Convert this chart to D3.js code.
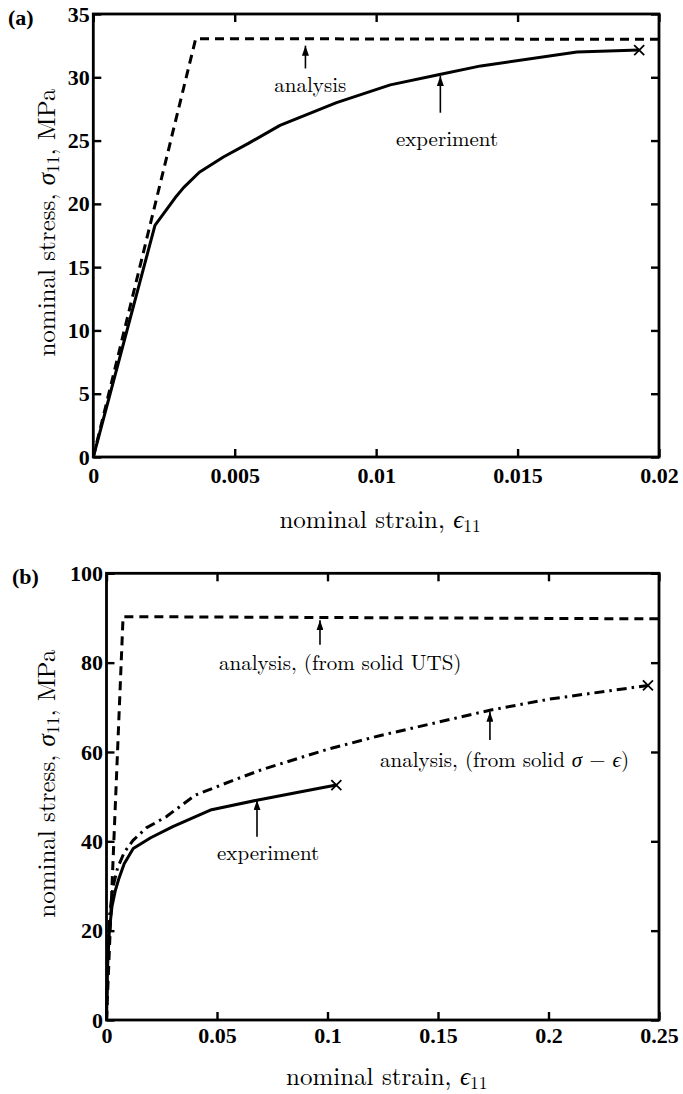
<!DOCTYPE html>
<html><head><meta charset="utf-8">
<script src="https://cdn.jsdelivr.net/npm/d3@7"></script>
</head><body style="margin:0;background:#fff">
<svg id="chart" width="683" height="1094" style="display:block"></svg>
<script>
// ---------- Panel (a) data ----------
const strainTicksA = [0, 0.005, 0.01, 0.015, 0.02];
const strainLabelsA = ["0", "0.005", "0.01", "0.015", "0.02"];
const stressTicksA = [0, 5, 10, 15, 20, 25, 30, 35];
const experimentA = [[0,0],[0.00218,18.3],[0.0029,20.5],[0.0032,21.3],[0.00375,22.5],[0.0046,23.7],[0.0055,24.8],[0.0066,26.2],[0.0086,28.0],[0.0105,29.4],[0.0122,30.2],[0.0137,30.9],[0.0171,32.0],[0.0193,32.15]];
const analysisA = [[0,0],[0.00362,33.05],[0.02,33.0]];
const failureA = [[0.0193,32.15]];

// ---------- Panel (b) data ----------
const strainTicksB = [0, 0.05, 0.1, 0.15, 0.2, 0.25];
const strainLabelsB = ["0", "0.05", "0.1", "0.15", "0.2", "0.25"];
const stressTicksB = [0, 20, 40, 60, 80, 100];
const experimentB = [[0,0],[0.0005,12],[0.0013,20],[0.0025,25.5],[0.004,29],[0.0055,31.5],[0.008,35],[0.0121,38.4],[0.02,40.8],[0.03,43.3],[0.047,47.0],[0.068,49.2],[0.088,51.1],[0.104,52.6]];
const analysisUTSB = [[0,0],[0.0075,90.3],[0.25,89.8]];
const analysisSolidB = [[0,0],[0.0005,14],[0.0015,24],[0.003,30],[0.005,34],[0.008,37.5],[0.012,40.2],[0.018,43],[0.027,45.5],[0.04,50.3],[0.057,53.6],[0.07,56],[0.1,60.6],[0.124,63.7],[0.174,69.4],[0.2,71.8],[0.245,74.9]];
const failureB = [[0.104,52.6],[0.245,74.9]];

// ---------- annotations (data coordinates) ----------
const notesA = [
  {x:0.0075, tip:32.5, tail:30.7, lx:0.0064, ly:28.8, text:[["analysis"]]},
  {x:0.01227, tip:30.1, tail:27.2, lx:0.0107, ly:24.6, text:[["experiment"]]}
];
const notesB = [
  {x:0.0966, tip:89.5, tail:84.0, lx:0.0509, ly:78.4, text:[["analysis, (from solid UTS)"]]},
  {x:0.1735, tip:69.0, tail:62.7, lx:0.1238, ly:56.6, text:[["analysis, (from solid "],["σ","i"],[" − "],["ϵ","i"],[")"]]},
  {x:0.0681, tip:49.2, tail:41.0, lx:0.050, ly:35.8, text:[["experiment"]]}
];

const LM = '"Latin Modern Roman","CMU Serif","Liberation Serif",serif';
const TB = '"Liberation Serif","Times New Roman",serif';

const svg = d3.select("#chart");
svg.append("rect").attr("width",683).attr("height",1094).attr("fill","#fff");

const defs = svg.append("defs");
defs.append("marker").attr("id","ah").attr("markerUnits","userSpaceOnUse")
  .attr("markerWidth",11).attr("markerHeight",7).attr("refX",10).attr("refY",3.5)
  .attr("orient","auto")
  .append("path").attr("d","M0,0 L10,3.5 L0,7 Z").attr("fill","#000");

function panel(cfg){
  const x = d3.scaleLinear().domain([cfg.xTicks[0], cfg.xTicks[cfg.xTicks.length-1]]).range([cfg.left, cfg.right]);
  const y = d3.scaleLinear().domain([cfg.yTicks[0], cfg.yTicks[cfg.yTicks.length-1]]).range([cfg.bottom, cfg.top]);
  const g = svg.append("g");

  const tickW = 2.4;
  const bottomAx = g.append("g").attr("transform",`translate(0,${cfg.bottom})`)
    .call(d3.axisBottom(x).tickValues(cfg.xTicks).tickFormat((d,i)=>cfg.xLabels[i]).tickSize(-8).tickSizeOuter(0).tickPadding(cfg.xPad));
  const topAx = g.append("g").attr("transform",`translate(0,${cfg.top})`)
    .call(d3.axisTop(x).tickValues(cfg.xTicks).tickFormat("").tickSize(-8).tickSizeOuter(0));
  const leftAx = g.append("g").attr("transform",`translate(${cfg.left},0)`)
    .call(d3.axisLeft(y).tickValues(cfg.yTicks).tickSize(-8).tickSizeOuter(0).tickPadding(3.5));
  const rightAx = g.append("g").attr("transform",`translate(${cfg.right},0)`)
    .call(d3.axisRight(y).tickValues(cfg.yTicks).tickFormat("").tickSize(-8).tickSizeOuter(0));
  [bottomAx, topAx, leftAx, rightAx].forEach(a=>{
    a.select(".domain").remove();
    a.selectAll(".tick line").attr("stroke","#000").attr("stroke-width",tickW);
    a.selectAll(".tick text").style("font-family",TB)
      .style("font-size","22px").style("font-weight","bold").attr("fill","#000");
  });
  g.append("rect").attr("x",cfg.left).attr("y",cfg.top)
    .attr("width",cfg.right-cfg.left).attr("height",cfg.bottom-cfg.top)
    .attr("fill","none").attr("stroke","#000").attr("stroke-width",2.8);

  const line = d3.line().x(d=>x(d[0])).y(d=>y(d[1]));
  cfg.series.forEach(s=>{
    g.append("path").datum(s.data).attr("d",line).attr("fill","none")
      .attr("stroke","#000").attr("stroke-width",3).attr("stroke-linejoin","round")
      .attr("stroke-dasharray",s.dash||null);
  });
  cfg.failures.forEach(p=>{
    const cx=x(p[0]), cy=y(p[1]), r=5;
    g.append("path").attr("d",`M${cx-r},${cy-r}L${cx+r},${cy+r}M${cx-r},${cy+r}L${cx+r},${cy-r}`)
      .attr("stroke","#000").attr("stroke-width",1.8).attr("fill","none");
  });
  cfg.notes.forEach(n=>{
    g.append("line").attr("x1",x(n.x)).attr("x2",x(n.x)).attr("y1",y(n.tail)).attr("y2",y(n.tip))
      .attr("stroke","#000").attr("stroke-width",1.6).attr("marker-end","url(#ah)");
    const t = g.append("text").attr("x",x(n.lx)).attr("y",y(n.ly))
      .style("font-family",LM).style("font-size","21px").attr("fill","#000");
    n.text.forEach(seg=>{
      const sp = t.append("tspan").text(seg[0]);
      if(seg[1]==="i") sp.style("font-style","italic");
    });
  });
  const xl = g.append("text").attr("x",(cfg.left+cfg.right)/2+4).attr("y",cfg.xLabelY)
    .attr("text-anchor","middle").style("font-family",LM).style("font-size","25px").attr("fill","#000");
  xl.append("tspan").text("nominal strain, ");
  xl.append("tspan").text("ϵ").style("font-style","italic");
  xl.append("tspan").text("11").style("font-size","17.5px").attr("dy",4);
  const yc = (cfg.top+cfg.bottom)/2 - 13;
  const yl = g.append("text").attr("transform",`translate(55,${yc}) rotate(-90)`)
    .attr("text-anchor","middle").style("font-family",LM).style("font-size","25px").attr("fill","#000");
  yl.append("tspan").text("nominal stress, ");
  yl.append("tspan").text("σ").style("font-style","italic");
  yl.append("tspan").text("11").style("font-size","17.5px").attr("dy",4);
  yl.append("tspan").text(", MPa").attr("dy",-4);
  g.append("text").attr("x",cfg.tagX).attr("y",cfg.tagY).style("font-family",TB)
    .style("font-size","22px").style("font-weight","bold").attr("fill","#000").text(cfg.tag);
}

panel({left:93.3,right:659,top:14,bottom:457,xTicks:strainTicksA,xLabels:strainLabelsA,yTicks:stressTicksA,
  xPad:10.5,xLabelY:528,tag:"(a)",tagX:8,tagY:25,
  series:[{data:experimentA},{data:analysisA,dash:"9,6"}],failures:failureA,notes:notesA});

panel({left:106.5,right:659,top:573.3,bottom:1020,xTicks:strainTicksB,xLabels:strainLabelsB,yTicks:stressTicksB,
  xPad:7.5,xLabelY:1085,tag:"(b)",tagX:12,tagY:584,
  series:[{data:experimentB},{data:analysisUTSB,dash:"9,6"},{data:analysisSolidB,dash:"10,5,2.5,5"}],failures:failureB,notes:notesB});
</script>
</body></html>
